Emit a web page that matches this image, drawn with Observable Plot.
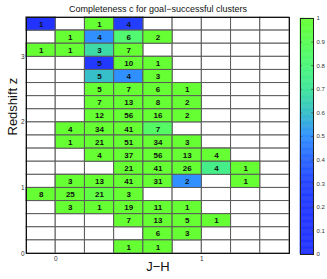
<!DOCTYPE html>
<html>
<head>
<meta charset="utf-8">
<script src="https://cdn.jsdelivr.net/npm/d3@7"></script>
<script src="https://cdn.jsdelivr.net/npm/@observablehq/plot@0.6"></script>
<style>
  html, body { margin: 0; padding: 0; background: white; }
  #wrap { display: flex; width: 327px; height: 279px; }
  svg { overflow: visible; }
</style>
</head>
<body>
<div id="wrap"></div>
<script>
// J-H bin edges (columns) and redshift bin edges (rows, top to bottom)
const jhEdges = [-0.2, 0, 0.2, 0.4, 0.6, 0.8, 1.0, 1.2, 1.4, 1.6];
const zEdges = [3.6, 3.4, 3.2, 3.0, 2.8, 2.6, 2.4, 2.2, 2.0, 1.8, 1.6, 1.4, 1.2, 1.0, 0.8, 0.6, 0.4, 0.2, 0.0];
const xTicks = [0, 1];
const yTicks = [0, 1, 2, 3];
const cbTicks = [0, 0.1, 0.2, 0.3, 0.4, 0.5, 0.6, 0.7, 0.8, 0.9, 1];

// number of clusters per cell (rows top to bottom)
const counts = [
  [1, null, 1, 4, null, null, null, null, null],
  [null, 1, 4, 6, 2, null, null, null, null],
  [1, 1, 3, 7, null, null, null, null, null],
  [null, null, 5, 10, 1, null, null, null, null],
  [null, null, 5, 4, 3, null, null, null, null],
  [null, null, 5, 7, 6, 1, null, null, null],
  [null, null, 7, 13, 8, 2, null, null, null],
  [null, null, 12, 56, 16, 2, null, null, null],
  [null, 4, 34, 41, 7, null, null, null, null],
  [null, 1, 21, 51, 34, 3, null, null, null],
  [null, null, 4, 37, 56, 13, 4, null, null],
  [null, null, null, 21, 41, 26, 4, 1, null],
  [null, 3, 13, 41, 31, 2, null, 1, null],
  [8, 25, 21, 3, null, null, null, null, null],
  [null, 3, 1, 19, 11, 1, null, null, null],
  [null, null, null, 7, 13, 5, 1, null, null],
  [null, null, null, null, 6, 3, null, null, null],
  [null, null, null, 1, 1, null, null, null, null]
];

// completeness per cell
const completeness = [
  [0, null, 1, 0.25, null, null, null, null, null],
  [null, 1, 0.5, 0.83, 1, null, null, null, null],
  [1, 1, 0.67, 1, null, null, null, null, null],
  [null, null, 0.2, 1, 1, null, null, null, null],
  [null, null, 0.6, 0.5, 1, null, null, null, null],
  [null, null, 1, 1, 1, 1, null, null, null],
  [null, null, 1, 1, 1, 1, null, null, null],
  [null, null, 1, 1, 1, 1, null, null, null],
  [null, 1, 1, 1, 0.86, null, null, null, null],
  [null, 1, 1, 1, 1, 1, null, null, null],
  [null, null, 1, 1, 1, 1, 1, null, null],
  [null, null, null, 1, 1, 1, 0.75, 1, null],
  [null, 1, 1, 1, 1, 0.5, null, 1, null],
  [1, 1, 0.95, 1, null, null, null, null, null],
  [null, 1, 1, 1, 1, 1, null, null, null],
  [null, null, null, 1, 1, 1, 1, null, null],
  [null, null, null, null, 1, 1, null, null, null],
  [null, null, null, 1, 1, null, null, null, null]
];

const cmapStops = ["#2233ff", "#2235ff", "#2238ff", "#2444ff", "#2a66ff", "#3090ff",
                   "#36bfc8", "#40e59a", "#4cf77a", "#5afc55", "#66ff33"];
const cmap = d3.piecewise(d3.interpolateRgb, cmapStops);

const cells = [];
counts.forEach((row, r) => row.forEach((n, c) => {
  cells.push({x1: jhEdges[c], x2: jhEdges[c + 1], y1: zEdges[r + 1], y2: zEdges[r], n, c: completeness[r][c]});
}));
const filled = cells.filter(d => d.n != null);

const font = "Liberation Sans, Arial, Helvetica, sans-serif";
const colorScale = {type: "linear", domain: [0, 1], interpolate: cmap};

const main = Plot.plot({
  width: 294, height: 279,
  marginLeft: 26, marginRight: 5, marginTop: 17, marginBottom: 26,
  style: {fontFamily: font, background: "white", color: "#222"},
  x: {domain: [-0.2, 1.6], axis: null},
  y: {domain: [0, 3.6], axis: null},
  color: colorScale,
  marks: [
    Plot.rect(cells, {x1: "x1", x2: "x2", y1: "y1", y2: "y2", fill: "white", stroke: "#5a5a5a", strokeWidth: 1}),
    Plot.rect(filled, {x1: "x1", x2: "x2", y1: "y1", y2: "y2", fill: "c", stroke: "#5a5a5a", strokeWidth: 1}),
    Plot.text(filled, {x: d => (d.x1 + d.x2) / 2, y: d => (d.y1 + d.y2) / 2, text: "n",
      fontWeight: "bold", fontSize: 8, fill: "#111"}),
    Plot.frame({stroke: "#111", strokeWidth: 1}),
    Plot.axisX(xTicks, {tickSize: 0, tickPadding: 3, fontSize: 6.5, label: null, fill: "#333", tickFormat: d => String(d)}),
    Plot.axisY(yTicks, {tickSize: 0, tickPadding: 2, fontSize: 6.5, label: null, fill: "#333", tickFormat: d => String(d)}),
    Plot.text(["J−H"], {frameAnchor: "bottom", dy: 17, fontSize: 13, fill: "#111"}),
    Plot.text(["Redshift z"], {frameAnchor: "left", dx: -14, rotate: -90, fontSize: 13, fill: "#111"}),
    Plot.text(["Completeness c for goal−successful clusters"], {frameAnchor: "top", dy: -8, lineAnchor: "middle", fontSize: 9, fill: "#111"})
  ]
});

const levels = d3.range(0, 1, 0.005);
const bar = Plot.plot({
  width: 33, height: 279,
  marginLeft: 6, marginRight: 14, marginTop: 18, marginBottom: 25,
  style: {fontFamily: font, background: "white", color: "#222"},
  x: {domain: [0, 1], axis: null},
  y: {domain: [0, 1], axis: null},
  color: colorScale,
  marks: [
    Plot.rect(levels, {x1: 0, x2: 1, y1: d => d, y2: d => d + 0.005, fill: d => d + 0.0025, stroke: d => d + 0.0025, strokeWidth: 0.5}),
    Plot.ruleY(cbTicks, {x1: 0, x2: 0.14, stroke: "#444", strokeWidth: 0.7}),
    Plot.ruleY(cbTicks, {x1: 0.86, x2: 1, stroke: "#444", strokeWidth: 0.7}),
    Plot.frame({stroke: "#222", strokeWidth: 1}),
    Plot.axisY(cbTicks, {anchor: "right", tickSize: 0, tickPadding: 3, fontSize: 6, label: null, fill: "#333",
      tickFormat: d => String(+d.toFixed(1))})
  ]
});

document.getElementById("wrap").append(main, bar);
</script>
</body>
</html>
